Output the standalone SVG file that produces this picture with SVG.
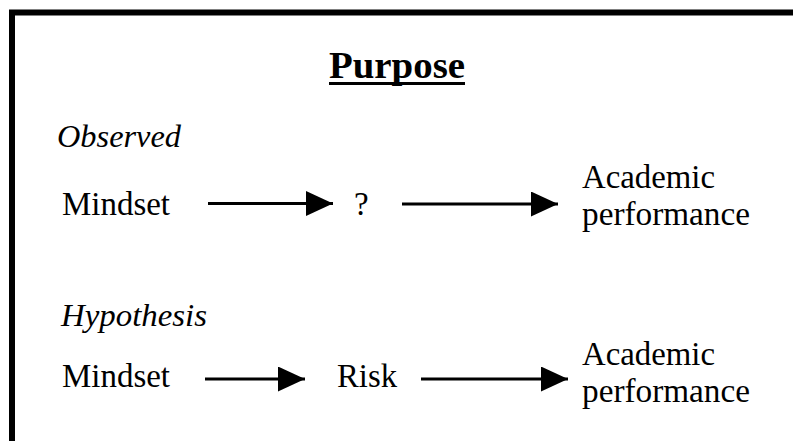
<svg xmlns="http://www.w3.org/2000/svg" width="793" height="441" viewBox="0 0 793 441">
<style>
text{font-family:"Liberation Serif","DejaVu Serif","Noto Serif",serif;fill:#000}
.t{font-size:33px}
.i{font-size:32px;font-style:italic}
.h{font-size:38px;font-weight:bold}
.c line{stroke:#000;stroke-width:3}
</style>
<defs>
<marker id="ah" markerUnits="userSpaceOnUse" markerWidth="28" markerHeight="26" refX="27" refY="12.5" orient="auto">
<path d="M0,0 L27,12.5 L0,25 Z" fill="#000"/>
</marker>
</defs>
<rect width="793" height="441" fill="#fff"/>
<path d="M12,441 V12.5 H793" fill="none" stroke="#000" stroke-width="6"/>
<g id="title">
<text class="h" x="329" y="78" textLength="136" lengthAdjust="spacingAndGlyphs">Purpose</text>
<rect x="329" y="82" width="136" height="3" fill="#000"/>
</g>
<g id="observed-label"><text class="i" x="57" y="147" textLength="124" lengthAdjust="spacingAndGlyphs">Observed</text></g>
<g id="mindset1"><text class="t" x="62" y="215" textLength="108" lengthAdjust="spacingAndGlyphs">Mindset</text></g>
<g id="unknown"><text class="t" x="354" y="215">?</text></g>
<g id="academic1"><text class="t" x="582" y="188" textLength="133" lengthAdjust="spacingAndGlyphs">Academic</text><text class="t" x="582" y="225" textLength="168" lengthAdjust="spacingAndGlyphs">performance</text></g>
<g id="hypothesis-label"><text class="i" x="61" y="326" textLength="146" lengthAdjust="spacingAndGlyphs">Hypothesis</text></g>
<g id="mindset2"><text class="t" x="62" y="387" textLength="108" lengthAdjust="spacingAndGlyphs">Mindset</text></g>
<g id="risk"><text class="t" x="337" y="387" textLength="60" lengthAdjust="spacingAndGlyphs">Risk</text></g>
<g id="academic2"><text class="t" x="582" y="365" textLength="133" lengthAdjust="spacingAndGlyphs">Academic</text><text class="t" x="582" y="402" textLength="168" lengthAdjust="spacingAndGlyphs">performance</text></g>
<g id="connectors" class="c">
<line x1="208" y1="203.5" x2="333" y2="203.5" marker-end="url(#ah)"/>
<line x1="402" y1="204" x2="558" y2="204" marker-end="url(#ah)"/>
<line x1="205" y1="379" x2="305" y2="379" marker-end="url(#ah)"/>
<line x1="421" y1="379" x2="568" y2="379" marker-end="url(#ah)"/>
</g>
</svg>
